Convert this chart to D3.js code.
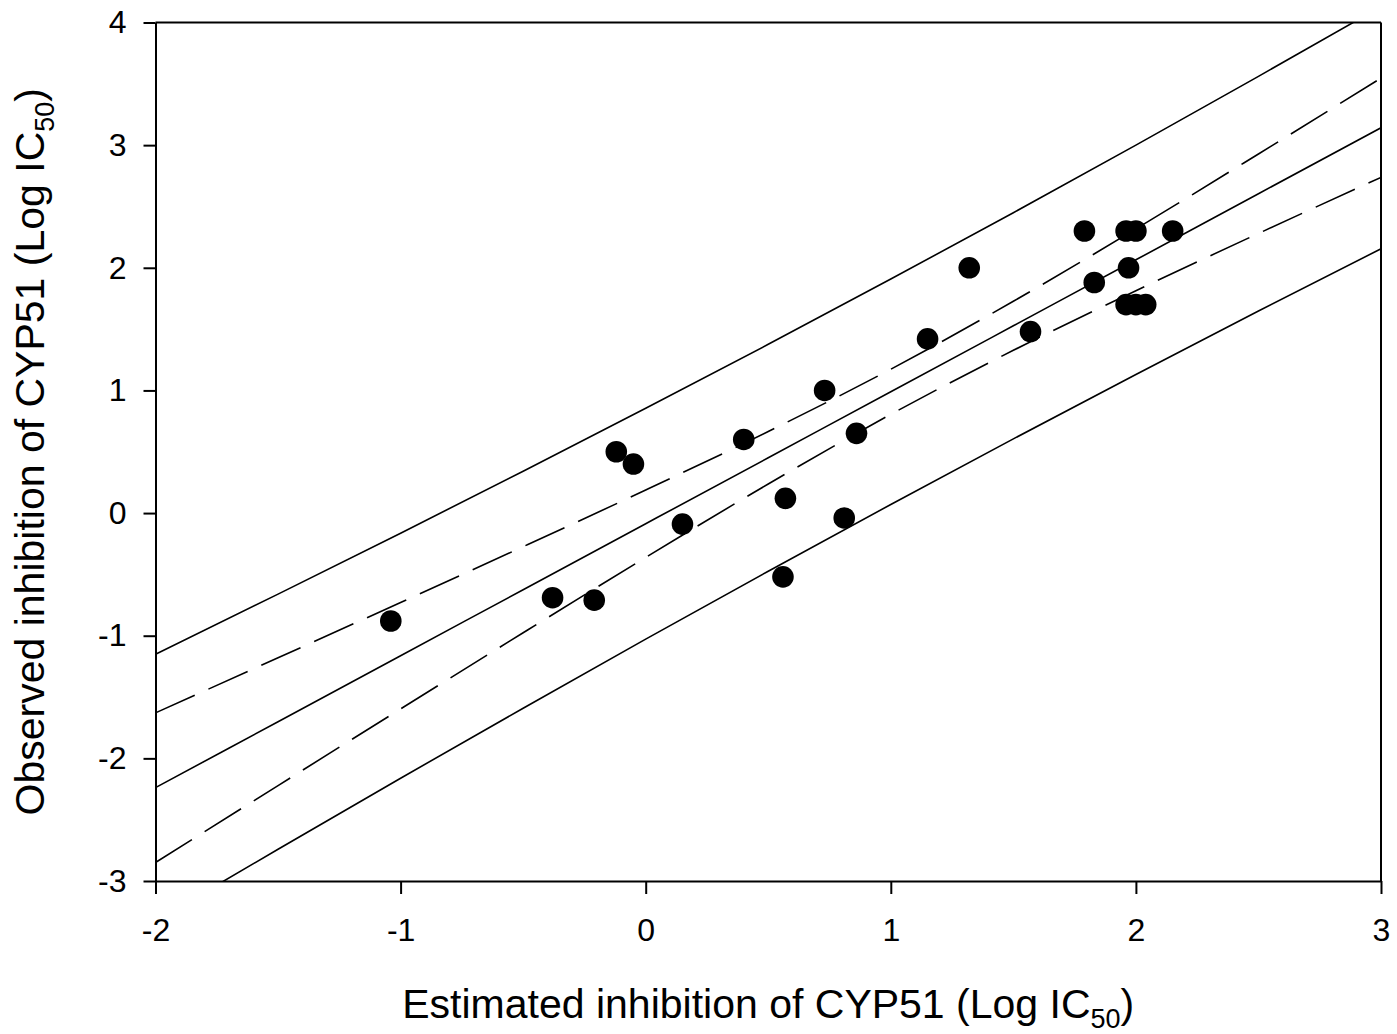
<!DOCTYPE html>
<html>
<head>
<meta charset="utf-8">
<script src="https://cdn.jsdelivr.net/npm/d3@7/dist/d3.min.js"></script>
<style>
  html, body { margin: 0; padding: 0; background: #fff; }
  svg { display: block; }
  text { font-family: "Liberation Sans", Arial, Helvetica, sans-serif; fill: #000; }
</style>
</head>
<body>
<svg id="chart" width="1397" height="1034"></svg>
<script>
// Observed points: estimated (x) vs observed (y) Log IC50
const estimated = [-1.04, -0.38, -0.21, -0.12, -0.05, 0.15, 0.40, 0.57, 0.56, 0.73, 0.81, 0.86,
                   1.15, 1.32, 1.57, 1.79, 1.83, 1.96, 2.00, 2.15, 1.97, 1.96, 2.00, 2.04];
const observed  = [-0.88, -0.69, -0.71, 0.50, 0.40, -0.09, 0.60, 0.12, -0.52, 1.00, -0.04, 0.65,
                   1.42, 2.00, 1.48, 2.30, 1.88, 2.30, 2.30, 2.30, 2.00, 1.70, 1.70, 1.70];

// Regression line and bands
const bandX      = [-2, -1.5, -1, -0.5, 0, 0.5, 1, 1.5, 2, 2.5, 3];
const fitLine    = [-2.239, -1.701, -1.163, -0.625, -0.087, 0.451, 0.989, 1.527, 2.065, 2.604, 3.142];
const confUpper  = [-1.629, -1.180, -0.729, -0.274, 0.188, 0.665, 1.173, 1.727, 2.317, 2.928, 3.547];
const confLower  = [-2.849, -2.222, -1.597, -0.976, -0.362, 0.237, 0.805, 1.327, 1.813, 2.280, 2.737];
const predUpper  = [-1.152, -0.661, -0.164, 0.341, 0.854, 1.376, 1.908, 2.449, 3.000, 3.561, 4.129];
const predLower  = [-3.326, -2.741, -2.162, -1.591, -1.028, -0.474, 0.070, 0.605, 1.130, 1.647, 2.155];

const xTicks = [-2, -1, 0, 1, 2, 3];
const yTicks = [-3, -2, -1, 0, 1, 2, 3, 4];

(function () {
const svg = d3.select("#chart");
const mL = 155.5, mR = 1381, mT = 22.5, mB = 881;

const x = d3.scaleLinear().domain([-2, 3]).range([mL, mR]);
const y = d3.scaleLinear().domain([-3, 4]).range([mB, mT]);

svg.append("defs").append("clipPath").attr("id", "plotclip")
  .append("rect").attr("x", mL).attr("y", mT)
  .attr("width", mR - mL).attr("height", mB - mT);

const plot = svg.append("g").attr("clip-path", "url(#plotclip)");

const lineGen = d3.line().x(d => x(d[0])).y(d => y(d[1])).curve(d3.curveMonotoneX);
function series(vals) { return bandX.map((v, i) => [v, vals[i]]); }

const solid = [predUpper, fitLine, predLower];
const dashed = [confUpper, confLower];

solid.forEach(s => {
  plot.append("path").attr("d", lineGen(series(s)))
    .attr("fill", "none").attr("stroke", "#000").attr("stroke-width", 1.6);
});
dashed.forEach(s => {
  plot.append("path").attr("d", lineGen(series(s)))
    .attr("fill", "none").attr("stroke", "#000").attr("stroke-width", 1.6)
    .attr("stroke-dasharray", "43,15");
});

// points
svg.append("g").selectAll("circle")
  .data(estimated.map((v, i) => [v, observed[i]]))
  .join("circle")
  .attr("cx", d => x(d[0])).attr("cy", d => y(d[1]))
  .attr("r", 10.8).attr("fill", "#000");

// frame
svg.append("line").attr("x1", mL).attr("x2", mR).attr("y1", mT).attr("y2", mT)
  .attr("stroke", "#000").attr("stroke-width", 2);
svg.append("line").attr("x1", mR).attr("x2", mR).attr("y1", mT).attr("y2", mB)
  .attr("stroke", "#000").attr("stroke-width", 2);

// axes
const fmt = d => d < 0 ? "-" + Math.abs(d) : String(d);
const xAxis = d3.axisBottom(x).tickValues(xTicks).tickSize(13).tickSizeOuter(0)
  .tickPadding(24).tickFormat(fmt);
const yAxis = d3.axisLeft(y).tickValues(yTicks).tickSize(12).tickSizeOuter(0)
  .tickPadding(17).tickFormat(fmt);

const gx = svg.append("g").attr("transform", `translate(0,${mB})`).call(xAxis);
const gy = svg.append("g").attr("transform", `translate(${mL},0)`).call(yAxis);

[gx, gy].forEach(g => {
  g.select(".domain").attr("stroke", "#000").attr("stroke-width", 2);
  g.selectAll(".tick line").attr("stroke", "#000").attr("stroke-width", 2);
  g.selectAll(".tick text")
    .style("font-family", '"Liberation Sans", Arial, sans-serif')
    .style("font-size", "32px").attr("fill", "#000");
});

// axis titles
const xt = svg.append("text")
  .attr("x", (mL + mR) / 2).attr("y", 1018)
  .attr("text-anchor", "middle").style("font-size", "41px");
xt.append("tspan").text("Estimated inhibition of CYP51 (Log IC");
xt.append("tspan").text("50").style("font-size", "27px").attr("dy", 10);
xt.append("tspan").text(")").attr("dy", -10);

const yt = svg.append("text")
  .attr("transform", `translate(44,${(mT + mB) / 2}) rotate(-90)`)
  .attr("text-anchor", "middle").style("font-size", "41px");
yt.append("tspan").text("Observed inhibition of CYP51 (Log IC");
yt.append("tspan").text("50").style("font-size", "27px").attr("dy", 10);
yt.append("tspan").text(")").attr("dy", -10);
})();
</script>
</body>
</html>
